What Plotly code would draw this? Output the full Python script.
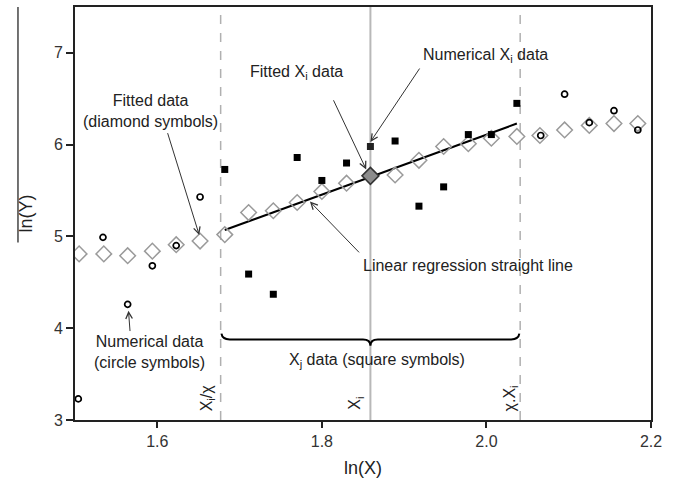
import plotly.graph_objects as go

# Fitted data (open diamonds)
diam_x = [1.505, 1.535, 1.564, 1.594, 1.623, 1.652, 1.682, 1.711, 1.741, 1.770, 1.800, 1.830,
          1.889, 1.918, 1.948, 1.978, 2.006, 2.037, 2.065, 2.095, 2.125, 2.155, 2.184]
diam_y = [4.81, 4.81, 4.79, 4.84, 4.91, 4.95, 5.02, 5.26, 5.28, 5.37, 5.49, 5.58,
          5.67, 5.83, 5.98, 6.01, 6.07, 6.09, 6.10, 6.16, 6.21, 6.23, 6.23]
# Fitted Xi point
fit_xi_x = [1.859]
fit_xi_y = [5.66]
# Numerical data (open circles)
circ_x = [1.504, 1.534, 1.564, 1.594, 1.623, 1.652, 2.066, 2.095, 2.125, 2.155, 2.184]
circ_y = [3.23, 4.99, 4.26, 4.68, 4.90, 5.43, 6.10, 6.55, 6.24, 6.37, 6.16]
# Xj data (filled squares)
sq_x = [1.682, 1.711, 1.741, 1.770, 1.800, 1.830, 1.889, 1.918, 1.948, 1.978, 2.006, 2.037]
sq_y = [5.73, 4.59, 4.37, 5.86, 5.61, 5.80, 6.04, 5.33, 5.54, 6.11, 6.11, 6.45]
# Numerical Xi point
num_xi_x = [1.859]
num_xi_y = [5.98]
# Linear regression line
reg_x = [1.682, 2.037]
reg_y = [5.07, 6.23]
# Reference positions
x_lo, x_i, x_hi = 1.677, 1.859, 2.041

FONT = "Liberation Sans, Arial, sans-serif"

fig = go.Figure()
fig.add_trace(go.Scatter(x=reg_x, y=reg_y, mode="lines", line=dict(color="black", width=2)))
fig.add_trace(go.Scatter(x=diam_x, y=diam_y, mode="markers",
                         marker=dict(symbol="diamond-open", size=12, color="#9a9a9a", line=dict(width=1.5))))
fig.add_trace(go.Scatter(x=circ_x, y=circ_y, mode="markers",
                         marker=dict(symbol="circle-open", size=6, color="black", line=dict(width=1.7))))
fig.add_trace(go.Scatter(x=sq_x, y=sq_y, mode="markers",
                         marker=dict(symbol="square", size=7, color="black")))
fig.add_trace(go.Scatter(x=num_xi_x, y=num_xi_y, mode="markers",
                         marker=dict(symbol="square", size=7, color="#222222")))
fig.add_trace(go.Scatter(x=fit_xi_x, y=fit_xi_y, mode="markers",
                         marker=dict(symbol="diamond", size=13, color="#8c8c8c",
                                     line=dict(color="#333333", width=1.5))))

shapes = [
    dict(type="line", xref="x", yref="paper", x0=x_lo, x1=x_lo, y0=0, y1=1,
         line=dict(color="#b0b0b0", width=1.5, dash="dash"), layer="below"),
    dict(type="line", xref="x", yref="paper", x0=x_hi, x1=x_hi, y0=0, y1=1,
         line=dict(color="#b0b0b0", width=1.5, dash="dash"), layer="below"),
    dict(type="line", xref="x", yref="paper", x0=x_i, x1=x_i, y0=0, y1=1,
         line=dict(color="#b8b8b8", width=2), layer="below"),
    # curly brace
    dict(type="path", xref="x", yref="y",
         path=(f"M {x_lo+0.001},3.94 Q {x_lo+0.002},3.878 {x_lo+0.011},3.878 "
               f"L {x_i-0.009},3.878 Q {x_i},3.878 {x_i},3.81 Q {x_i},3.878 {x_i+0.009},3.878 "
               f"L {x_hi-0.011},3.878 Q {x_hi-0.002},3.878 {x_hi-0.001},3.94"),
         line=dict(color="black", width=2)),
    # stray line near y title
    dict(type="line", xref="paper", yref="paper", x0=-0.099, x1=-0.099, y0=1.0, y1=0.43,
         line=dict(color="#444444", width=1.5)),
]

ann = []
def text(x, y, t, size=16, angle=0):
    ann.append(dict(x=x, y=y, xref="x", yref="y", text=t, showarrow=False,
                    textangle=angle, font=dict(family=FONT, size=size, color="#222222")))

def arrow(tx, ty, hx, hy):
    ann.append(dict(x=hx, y=hy, ax=tx, ay=ty, xref="x", yref="y", axref="x", ayref="y",
                    text="", showarrow=True, arrowhead=5, arrowsize=1.3, arrowwidth=1,
                    arrowcolor="#333333"))

text(1.5916, 6.37, "Fitted data<br>(diamond symbols)")
text(1.769, 6.79, "Fitted X<sub>i</sub> data")
text(1.9994, 6.976, "Numerical X<sub>i</sub> data")
text(1.978, 4.679, "Linear regression straight line")
text(1.591, 3.737, "Numerical data<br>(circle symbols)")
text(1.8667, 3.65, "X<sub>j</sub> data (square symbols)")
text(1.6606, 3.238, "X<sub>i</sub>/χ", angle=-90)
text(1.841, 3.184, "X<sub>i</sub>", angle=-90)
text(2.029, 3.238, "χ.X<sub>i</sub>", angle=-90)

arrow(1.612, 6.142, 1.651, 5.015)
arrow(1.8133, 6.5, 1.8539, 5.73)
arrow(1.92, 6.846, 1.859, 6.03)
arrow(1.847, 4.81, 1.7855, 5.38)
arrow(1.567, 3.953, 1.565, 4.19)

fig.update_layout(
    width=678, height=486,
    margin=dict(l=75, r=27, t=5, b=66),
    paper_bgcolor="white", plot_bgcolor="white",
    showlegend=False,
    shapes=shapes, annotations=ann,
    font=dict(family=FONT, size=16, color="#333333"),
)
fig.update_xaxes(range=[1.5, 2.2], tickvals=[1.6, 1.8, 2.0, 2.2], ticktext=["1.6", "1.8", "2.0", "2.2"],
                 showgrid=False, zeroline=False, showline=True, linecolor="#222222", linewidth=2,
                 mirror=True, ticks="outside", ticklen=6, tickwidth=2, tickcolor="#222222",
                 title=dict(text="ln(X)", font=dict(size=18, family=FONT, color="#222222"), standoff=12))
fig.update_yaxes(range=[3, 7.5], tickvals=[3, 4, 5, 6, 7],
                 showgrid=False, zeroline=False, showline=True, linecolor="#222222", linewidth=2,
                 mirror=True, ticks="outside", ticklen=7, tickwidth=2, tickcolor="#222222",
                 title=dict(text="ln(Y)", font=dict(size=18, family=FONT, color="#222222"), standoff=17))

fig.write_html("out.html", config={"displayModeBar": False},
               post_script="document.body.style.margin='0';")
